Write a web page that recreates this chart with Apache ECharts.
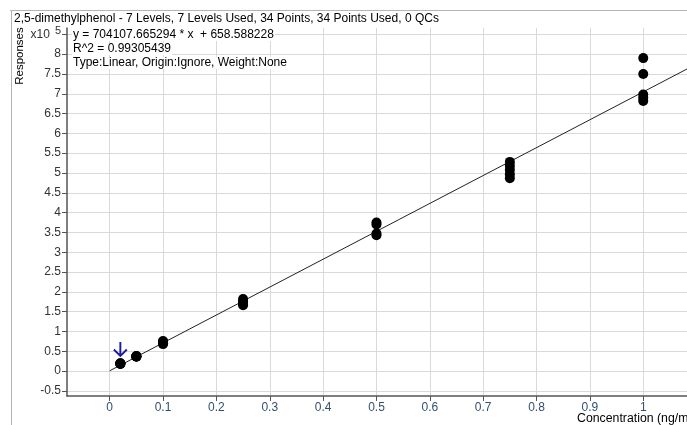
<!DOCTYPE html>
<html>
<head>
<meta charset="utf-8">
<script src="https://cdn.jsdelivr.net/npm/echarts@6/dist/echarts.min.js"></script>
<style>
html,body{margin:0;padding:0;background:#fff;}
#c{width:687px;height:425px;}
</style>
</head>
<body>
<div id="c"></div>
<script>
// ---- data ----
const titleText = '2,5-dimethylphenol - 7 Levels, 7 Levels Used, 34 Points, 34 Points Used, 0 QCs';
const infoLines = ['y = 704107.665294 * x  + 658.588228', 'R^2 = 0.99305439', 'Type:Linear, Origin:Ignore, Weight:None'];
const slope = 704107.665294;
const intercept = 658.588228;
const levels = [0.02, 0.05, 0.1, 0.25, 0.5, 0.75, 1.0];
const respL1 = [18000, 18400, 18800, 19200, 19600];
const respL2 = [36000, 36500, 37000, 37500, 38000];
const respL3 = [68000, 70000, 72000, 74000, 76000];
const respL4 = [166000, 169000, 172000, 177000, 182000];
const respL5 = [343000, 347000, 370000, 375000];
const respL6 = [487000, 497000, 508000, 518000, 528000];
const respL7 = [790000, 750000, 698000, 690000, 682000];
const xTicks = [0, 0.1, 0.2, 0.3, 0.4, 0.5, 0.6, 0.7, 0.8, 0.9, 1];
const yTicks = [-50000, 0, 50000, 100000, 150000, 200000, 250000, 300000, 350000, 400000, 450000, 500000, 550000, 600000, 650000, 700000, 750000, 800000, 850000];
const yScale = 100000;
const xLabel = 'Concentration (ng/ml)';
const yLabel = 'Responses';

// ---- build ----
const byLevel = [respL1, respL2, respL3, respL4, respL5, respL6, respL7];
const points = [];
byLevel.forEach((arr, i) => arr.forEach(v => points.push([levels[i], v])));
const xMin = -0.08, xMax = 1.082, yMin = -63000, yMax = 866000;
const lineData = [[0, intercept], [xMax, slope * xMax + intercept]];
const FONT = 'Liberation Sans, Arial, sans-serif';

const chart = echarts.init(document.getElementById('c'), null, {renderer: 'canvas'});
chart.setOption({
  animation: false,
  backgroundColor: '#fff',
  grid: {left: 67, top: 28, right: 0, bottom: 29, containLabel: false, outerBoundsMode: 'none'},
  xAxis: {
    type: 'value', min: xMin, max: xMax,
    axisLine: {show: true, onZero: false, lineStyle: {color: '#555', width: 1.5}},
    axisTick: {show: true, inside: false, length: 5, customValues: xTicks, lineStyle: {color: '#555'}},
    axisLabel: {show: true, margin: 6, customValues: xTicks, color: '#34506e', fontFamily: FONT, fontSize: 12,
      formatter: v => String(Math.round(v * 10) / 10)},
    splitLine: {show: true, lineStyle: {color: '#d9d9d9', width: 1}}
  },
  yAxis: {
    type: 'value', min: yMin, max: yMax,
    axisLine: {show: true, onZero: false, lineStyle: {color: '#555', width: 1.5}},
    axisTick: {show: true, inside: false, length: 5, customValues: yTicks, lineStyle: {color: '#555'}},
    axisLabel: {show: true, margin: 6, customValues: yTicks, color: '#333', fontFamily: FONT, fontSize: 12,
      formatter: v => v >= 850000 ? '{a|x10}{s|5}' : String(Math.round(v / yScale * 10) / 10),
      rich: {a: {fontFamily: FONT, fontSize: 12, color: '#333', padding: [0, 5, 0, 0]},
             s: {fontFamily: FONT, fontSize: 11, color: '#333', padding: [0, 0, 6, 0]}}},
    splitLine: {show: true, lineStyle: {color: '#d9d9d9', width: 1}}
  },
  series: [
    {
      type: 'line', data: lineData, symbol: 'none', silent: true,
      lineStyle: {color: '#222', width: 1}, z: 3
    },
    {
      type: 'scatter', data: points, symbol: 'circle', symbolSize: 10,
      itemStyle: {color: '#000', opacity: 1}, z: 4,
      markPoint: {
        symbol: 'path://M6,0 L6,13 M0,7 L6,13 L12,7',
        symbolSize: [13, 14], symbolOffset: [0, -15],
        itemStyle: {color: 'none', borderColor: '#1c1c9c', borderWidth: 2, opacity: 1},
        label: {show: false},
        data: [{coord: [levels[0], respL1[0]]}]
      }
    }
  ],
  graphic: {
    elements: [
      {type: 'line', z: 100, shape: {x1: 10, y1: 10.5, x2: 687, y2: 10.5}, style: {stroke: '#b4b4b4', lineWidth: 1}, silent: true},
      {type: 'line', z: 100, shape: {x1: 11.5, y1: 10, x2: 11.5, y2: 425}, style: {stroke: '#b4b4b4', lineWidth: 1}, silent: true},
      {type: 'text', z: 100, x: 14, y: 19, style: {text: titleText, font: '12px ' + FONT, fill: '#000', verticalAlign: 'middle'}},
      {type: 'text', z: 100, x: 72, y: 35, style: {text: infoLines[0], font: '12px ' + FONT, fill: '#000', verticalAlign: 'middle', backgroundColor: '#fff', padding: [0, 1, 0, 1]}},
      {type: 'text', z: 100, x: 72, y: 49, style: {text: infoLines[1], font: '12px ' + FONT, fill: '#000', verticalAlign: 'middle', backgroundColor: '#fff', padding: [0, 1, 0, 1]}},
      {type: 'text', z: 100, x: 72, y: 63, style: {text: infoLines[2], font: '12px ' + FONT, fill: '#000', verticalAlign: 'middle', backgroundColor: '#fff', padding: [0, 1, 0, 1]}},
      {type: 'text', z: 100, x: 20, y: 56, rotation: Math.PI / 2, style: {text: yLabel, font: '11.5px ' + FONT, fill: '#000', align: 'center', verticalAlign: 'middle'}},
      {type: 'text', z: 100, x: 577, y: 419, style: {text: xLabel, font: '12.3px ' + FONT, fill: '#000', verticalAlign: 'middle'}}
    ]
  }
});
</script>
</body>
</html>
